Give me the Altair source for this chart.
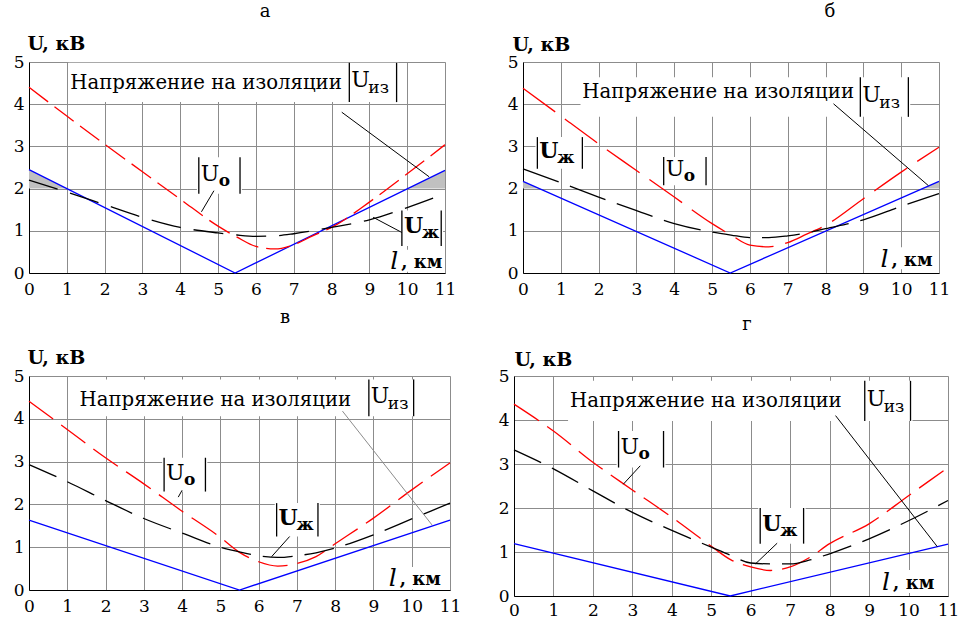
import altair as alt
import pandas as pd

SERIF = "DejaVu Serif"

# distance along the line, km
X_KM = [0, 1, 2, 3, 4, 5, 5.5, 6, 6.5, 7, 7.5, 8, 9, 10, 11]

# panel а
U_O_A = [4.40, 3.72, 3.05, 2.40, 1.75, 1.11, 0.85, 0.63, 0.57, 0.67, 0.88, 1.08, 1.68, 2.35, 3.04]
U_ZH_A = [2.20, 1.92, 1.62, 1.32, 1.08, 0.95, 0.90, 0.87, 0.88, 0.93, 1.00, 1.08, 1.26, 1.55, 1.88]
IZ_X_A = [0, 5.45, 11]
U_IZ_A = [2.45, 0.0, 2.43]
SHADE_X_A = [0, 1.0, 10.02, 11]
SHADE_Y_A = [2.45, 2.0, 2.0, 2.43]
SHADE_PART_A = [1, 1, 2, 2]

# panel б
U_O_B = [4.38, 3.72, 3.06, 2.43, 1.80, 1.17, 0.90, 0.66, 0.62, 0.72, 0.92, 1.13, 1.76, 2.39, 2.98]
U_ZH_B = [2.47, 2.14, 1.80, 1.48, 1.17, 0.97, 0.90, 0.84, 0.84, 0.88, 0.95, 1.05, 1.26, 1.58, 1.88]
IZ_X_B = [0, 5.48, 11]
U_IZ_B = [2.17, 0.0, 2.17]
SHADE_X_B = [0, 0.43, 10.57, 11]
SHADE_Y_B = [2.17, 2.0, 2.0, 2.17]
SHADE_PART_B = [1, 1, 2, 2]

# panel в
U_O_C = [4.41, 3.75, 3.09, 2.48, 1.84, 1.23, 0.88, 0.66, 0.56, 0.62, 0.78, 1.08, 1.68, 2.34, 2.97]
U_ZH_C = [2.93, 2.53, 2.09, 1.67, 1.33, 1.00, 0.89, 0.80, 0.76, 0.80, 0.87, 0.98, 1.29, 1.66, 2.03]
IZ_X_C = [0, 5.5, 11]
U_IZ_C = [1.63, 0.0, 1.63]

# panel г
U_O_D = [4.36, 3.75, 3.04, 2.41, 1.79, 1.13, 0.82, 0.66, 0.58, 0.66, 0.88, 1.19, 1.64, 2.28, 2.92]
U_ZH_D = [3.32, 2.89, 2.39, 1.90, 1.49, 1.11, 0.92, 0.75, 0.73, 0.73, 0.82, 0.96, 1.30, 1.71, 2.17]
IZ_X_D = [0, 5.48, 11]
U_IZ_D = [1.19, 0.0, 1.18]

SHADE_LEVEL = 2.0

X_SCALE = alt.Scale(domain=[0, 11], nice=False, zero=False)
Y_SCALE = alt.Scale(domain=[0, 5], nice=False, zero=False)


def x_axis(pad):
    return alt.Axis(
        values=list(range(12)), grid=True, gridColor="#8c8c8c", gridWidth=1,
        ticks=False, domainColor="black", domainWidth=1, labelFont=SERIF,
        labelFontSize=17, labelColor="black", labelPadding=pad, labelFlush=False,
        labelOverlap=False, title=None,
    )


def y_axis(tx, ty):
    return alt.Axis(
        values=list(range(6)), grid=True, gridColor="#8c8c8c", gridWidth=1,
        ticks=False, domainColor="black", domainWidth=1, labelFont=SERIF,
        labelFontSize=17, labelColor="black", labelPadding=5, labelFlush=False,
        labelOverlap=False, title="U, кВ", titleAngle=0, titleAlign="left",
        titleBaseline="alphabetic", titleX=tx, titleY=ty, titleFont=SERIF,
        titleFontSize=19, titleFontWeight="bold", titleColor="black",
    )


def panel(cfg):
    w, h = cfg["size"]
    xa = x_axis(cfg["xpad"])
    ya = y_axis(*cfg["ytitle"])

    def xq(field="x"):
        return alt.X(f"{field}:Q", scale=X_SCALE, axis=xa)

    def yq(field="y"):
        return alt.Y(f"{field}:Q", scale=Y_SCALE, axis=ya)

    def text_at(x, y, text, size, weight="normal", style="normal", dx=0, dy=0):
        df = pd.DataFrame({"x": [x], "y": [y], "t": [text]})
        return alt.Chart(df).mark_text(
            font=SERIF, fontSize=size, fontWeight=weight, fontStyle=style,
            align="left", baseline="middle", dx=dx, dy=dy, color="black",
        ).encode(x=xq(), y=yq(), text="t:N")

    layers = []

    if cfg.get("shade"):
        sx, sy, sp = cfg["shade"]
        sdf = pd.DataFrame({"x": sx, "y": sy, "part": sp})
        layers.append(
            alt.Chart(sdf).mark_area(color="#c0c0c0").encode(
                x=xq(), y=yq(), y2=alt.datum(SHADE_LEVEL), detail="part:N"
            )
        )

    # white plates under the labels
    boxes = []
    mx, my = cfg["main"]
    ix0, ix1, iy0, iy1 = cfg["iz_box"]
    boxes.append((mx - 0.05, ix1 + 0.05, iy0, iy1))
    for lab in cfg["labels"]:
        x0, x1, y0, y1 = lab["box"]
        boxes.append((x0 - 0.05, x1 + 0.05, y0, y1))
    lx, ly = cfg["l_pos"]
    boxes.append((lx - 0.1, 10.97, ly - 0.25, ly + 0.27))
    bdf = pd.DataFrame(boxes, columns=["x", "x2", "y", "y2"])
    layers.append(
        alt.Chart(bdf).mark_rect(color="white").encode(
            x=xq(), x2=alt.X2("x2"), y=yq(), y2=alt.Y2("y2")
        )
    )

    # |U_из|
    blue = pd.DataFrame({"x": cfg["iz_x"], "y": cfg["iz"]})
    layers.append(
        alt.Chart(blue).mark_line(color="#0000ff", strokeWidth=1.3).encode(
            x=xq(), y=yq()
        )
    )
    # |U_O|
    red = pd.DataFrame({"x": X_KM, "y": cfg["red"]})
    layers.append(
        alt.Chart(red).mark_line(
            color="#ff0000", strokeWidth=1.3, strokeDash=cfg["red_dash"],
            interpolate="monotone",
        ).encode(x=xq(), y=yq())
    )
    # |U_Ж|
    black = pd.DataFrame({"x": X_KM, "y": cfg["black"]})
    layers.append(
        alt.Chart(black).mark_line(
            color="black", strokeWidth=1.3, strokeDash=cfg["black_dash"],
            interpolate="monotone",
        ).encode(x=xq(), y=yq())
    )

    # leader lines
    for (x1, y1, x2, y2), col in cfg["leaders"]:
        ldf = pd.DataFrame({"x": [x1], "y": [y1], "x2": [x2], "y2": [y2]})
        layers.append(
            alt.Chart(ldf).mark_rule(color=col, strokeWidth=1).encode(
                x=xq(), y=yq(), x2=alt.X2("x2"), y2=alt.Y2("y2")
            )
        )

    # modulus bars
    bars = [(ix0, iy0, iy1), (ix1, iy0, iy1)]
    for lab in cfg["labels"]:
        x0, x1, y0, y1 = lab["box"]
        bars += [(x0, y0, y1), (x1, y0, y1)]
    bardf = pd.DataFrame(bars, columns=["x", "y", "y2"])
    layers.append(
        alt.Chart(bardf).mark_rule(color="black", strokeWidth=1.3).encode(
            x=xq(), y=yq(), y2=alt.Y2("y2")
        )
    )

    # texts
    layers.append(text_at(mx, my, "Напряжение на изоляции", 19.7))
    iyc = (iy0 + iy1) / 2
    layers.append(text_at(ix0, iyc, "U", 22, dx=2, dy=-2))
    layers.append(text_at(ix0, iyc, "из", 17, dx=19, dy=6))
    for lab in cfg["labels"]:
        x0, x1, y0, y1 = lab["box"]
        yc = (y0 + y1) / 2
        layers.append(text_at(x0, yc, "U", 22, weight=lab["uw"], dx=2, dy=-2))
        layers.append(text_at(x0, yc, lab["sub"], 17, weight="bold", dx=20, dy=5))
    layers.append(text_at(lx, ly, "l", 25, style="italic"))
    layers.append(text_at(lx, ly, ", км", 18, weight="bold", dx=11, dy=2))

    # panel letter
    lpx, lpy = cfg["letter_pos"]
    layers.append(
        alt.Chart(pd.DataFrame({"t": [cfg["letter"]]})).mark_text(
            font=SERIF, fontSize=18, align="center", baseline="middle", color="black"
        ).encode(x=alt.value(lpx), y=alt.value(lpy), text="t:N")
    )

    return alt.layer(*layers).properties(width=w, height=h)


PANELS = [
    dict(
        letter="а", size=(416, 211), letter_pos=(236, -50), ytitle=(-2, -13), xpad=8,
        red=U_O_A, black=U_ZH_A, iz_x=IZ_X_A, iz=U_IZ_A,
        shade=(SHADE_X_A, SHADE_Y_A, SHADE_PART_A),
        red_dash=[24, 8], black_dash=[30, 13],
        main=(1.09, 4.5), iz_box=(8.47, 9.72, 4.05, 4.98),
        labels=[
            dict(box=(4.49, 5.58, 1.88, 2.74), sub="о", uw="normal"),
            dict(box=(9.86, 10.9, 0.64, 1.48), sub="ж", uw="bold"),
        ],
        leaders=[((8.27, 3.81, 10.58, 2.28), "black"),
                 ((4.89, 1.95, 4.56, 1.45), "black"),
                 ((9.86, 0.96, 9.1, 1.32), "black")],
        l_pos=(9.55, 0.28),
    ),
    dict(
        letter="б", size=(416, 211), letter_pos=(307, -50), ytitle=(-11, -12), xpad=8,
        red=U_O_B, black=U_ZH_B, iz_x=IZ_X_B, iz=U_IZ_B,
        shade=(SHADE_X_B, SHADE_Y_B, SHADE_PART_B),
        red_dash=[40, 12], black_dash=[38, 12],
        main=(1.57, 4.29), iz_box=(8.92, 10.19, 3.7, 4.64),
        labels=[
            dict(box=(3.72, 4.84, 2.08, 2.75), sub="о", uw="normal"),
            dict(box=(0.38, 1.57, 2.47, 3.22), sub="ж", uw="bold"),
        ],
        leaders=[((8.21, 4.01, 10.72, 2.07), "black")],
        l_pos=(9.45, 0.34),
    ),
    dict(
        letter="в", size=(421, 214), letter_pos=(256, -58), ytitle=(-2, -13), xpad=8,
        red=U_O_C, black=U_ZH_C, iz_x=IZ_X_C, iz=U_IZ_C, shade=None,
        red_dash=[30, 10], black_dash=[30, 12],
        main=(1.32, 4.44), iz_box=(8.88, 10.05, 4.06, 4.92),
        labels=[
            dict(box=(3.53, 4.61, 2.3, 3.09), sub="о", uw="normal"),
            dict(box=(6.47, 7.55, 1.25, 2.03), sub="ж", uw="bold"),
        ],
        leaders=[((8.19, 4.18, 10.53, 1.52), "#8c8c8c"),
                 ((4.0, 2.33, 3.9, 2.17), "black"),
                 ((6.81, 1.25, 6.34, 0.78), "black")],
        l_pos=(9.4, 0.27),
    ),
    dict(
        letter="г", size=(434, 220), letter_pos=(233, -51), ytitle=(0, -11), xpad=6,
        red=U_O_D, black=U_ZH_D, iz_x=IZ_X_D, iz=U_IZ_D, shade=None,
        red_dash=[30, 10], black_dash=[30, 12],
        main=(1.42, 4.43), iz_box=(8.89, 10.05, 3.98, 4.89),
        labels=[
            dict(box=(2.65, 3.79, 2.92, 3.75), sub="о", uw="normal"),
            dict(box=(6.24, 7.34, 1.19, 2.0), sub="ж", uw="bold"),
        ],
        leaders=[((8.15, 4.1, 10.73, 1.12), "black"),
                 ((3.2, 2.96, 2.77, 2.54), "black"),
                 ((6.67, 1.2, 6.12, 0.73), "black")],
        l_pos=(9.33, 0.32),
    ),
]

pa, pb, pc, pd_ = [panel(c) for c in PANELS]

top_row = alt.hconcat(pa, pb, spacing=78, bounds="flush")
bottom_row = alt.hconcat(pc, pd_, spacing=64, bounds="flush")

chart = (
    alt.vconcat(top_row, bottom_row, spacing=10)
    .properties(padding={"left": 12, "top": 2, "right": 0, "bottom": 0})
    .configure_view(stroke="black", strokeWidth=1)
    .configure(background="white")
)

chart.save("out.html", embed_options={"renderer": "svg", "actions": False})
